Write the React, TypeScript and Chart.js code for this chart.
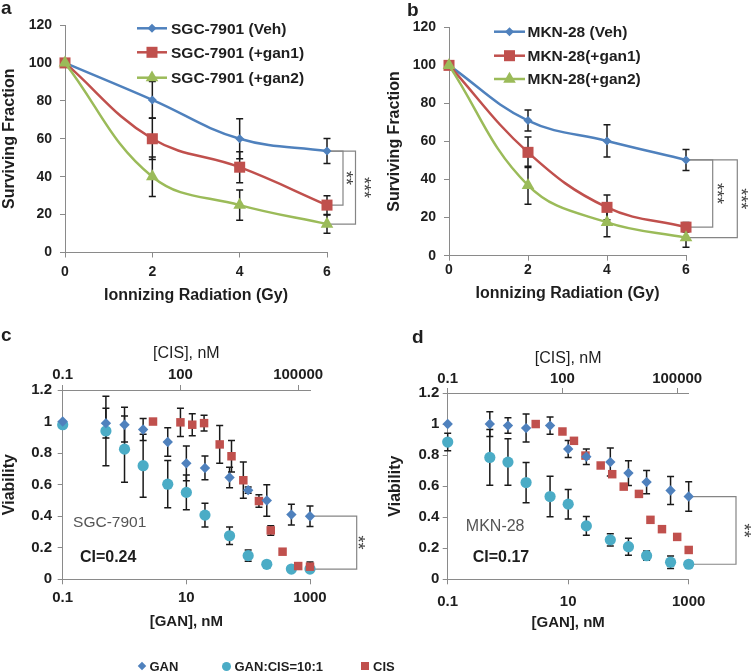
import React, { useEffect, useRef } from 'react';
import { Chart, registerables } from 'chart.js';
Chart.register(...registerables);

// ---------- Panel a / b : clonogenic survival ----------
const DOSES = [0, 2, 4, 6];
const SGC_LABELS = ['SGC-7901 (Veh)', 'SGC-7901 (+gan1)', 'SGC-7901 (+gan2)'];
const SGC_VEH = [100, 80.5, 60, 53.5];
const SGC_VEH_ERR = [0, 9.7, 10.5, 6.6];
const SGC_GAN1 = [100, 60, 45, 25];
const SGC_GAN1_ERR = [0, 11, 8.2, 5];
const SGC_GAN2 = [100, 40, 25, 15];
const SGC_GAN2_ERR = [0, 10.4, 8, 4.8];

const MKN_LABELS = ['MKN-28 (Veh)', 'MKN-28(+gan1)', 'MKN-28(+gan2)'];
const MKN_VEH = [100, 71, 60.3, 50.3];
const MKN_VEH_ERR = [0, 5.5, 8.5, 5.5];
const MKN_GAN1 = [100, 54.3, 25.4, 15];
const MKN_GAN1_ERR = [0, 8, 6.5, 2.5];
const MKN_GAN2 = [100, 37, 17.5, 9.5];
const MKN_GAN2_ERR = [0, 10, 7.5, 5];

// ---------- Panel c / d : viability ----------
const GAN_CONC = [0.1, 0.5, 1, 2, 5, 10, 20, 50, 100, 200, 500, 1000];
const CIS_CONC = [20, 100, 200, 400, 1000, 2000, 4000, 10000, 20000, 40000, 100000, 200000];
const GAN_TICKS = [0.1, 10, 1000];
const CIS_TICKS = [0.1, 100, 100000];
const CIS_AXIS_MAX = 200000;

const SGC_GAN_VIAB = [1.0, 0.99, 0.98, 0.95, 0.87, 0.735, 0.706, 0.645, 0.565, 0.5, 0.41, 0.4];
const SGC_GAN_VIAB_ERR = [0, 0.095, 0.11, 0.07, 0.09, 0.11, 0.075, 0.065, 0.02, 0.1, 0.065, 0.065];
const SGC_COMBO_VIAB = [0.98, 0.94, 0.825, 0.72, 0.603, 0.551, 0.407, 0.276, 0.15, 0.095, 0.065, 0.065];
const SGC_COMBO_VIAB_ERR = [0, 0.22, 0.21, 0.2, 0.15, 0.11, 0.075, 0.055, 0.035, 0.02, 0.01, 0.01];
const SGC_CIS_VIAB = [1.0, 0.995, 0.98, 0.99, 0.855, 0.78, 0.628, 0.496, 0.31, 0.175, 0.084, 0.08];
const SGC_CIS_VIAB_ERR = [0, 0.09, 0.07, 0.05, 0.12, 0.1, 0.115, 0.04, 0.03, 0, 0.02, 0.03];

const MKN_GAN_VIAB = [1.0, 1.0, 0.99, 0.974, 0.99, 0.839, 0.79, 0.755, 0.684, 0.626, 0.572, 0.533];
const MKN_GAN_VIAB_ERR = [0, 0.08, 0.05, 0.09, 0.055, 0.055, 0.05, 0.09, 0.08, 0.075, 0.09, 0.095];
const MKN_COMBO_VIAB = [0.884, 0.785, 0.755, 0.623, 0.533, 0.484, 0.344, 0.254, 0.21, 0.152, 0.11, 0.097];
const MKN_COMBO_VIAB_ERR = [0.056, 0.18, 0.15, 0.13, 0.13, 0.095, 0.06, 0.04, 0.055, 0.03, 0.04, 0.02];
const MKN_CIS_VIAB = [1.0, 0.952, 0.892, 0.797, 0.733, 0.677, 0.597, 0.55, 0.383, 0.323, 0.273, 0.189];

const LEGEND_C = ['GAN', 'GAN:CIS=10:1', 'CIS'];

// ---------- styling ----------
const FONT = "'Liberation Sans', Arial, Helvetica, sans-serif";
const AXIS = '#8a8a8a';
const TXT = '#1e1e1e';
const BLUE = '#4F81BD';
const RED = '#C0504D';
const GREEN = '#9BBB59';
const CYAN = '#4BACC6';

Chart.defaults.font.family = FONT;

function drawMarker(ctx: CanvasRenderingContext2D, style: string, x: number, y: number, r: number, fill: string) {
  ctx.beginPath();
  if (style === 'rectRot') {
    ctx.moveTo(x - r, y); ctx.lineTo(x, y - r); ctx.lineTo(x + r, y); ctx.lineTo(x, y + r); ctx.closePath();
  } else if (style === 'rect') {
    const s = r * Math.SQRT1_2; ctx.rect(x - s, y - s, 2 * s, 2 * s);
  } else if (style === 'triangle') {
    for (let k = 0; k < 3; k++) {
      const a = -Math.PI / 2 + k * (2 * Math.PI / 3);
      const px = x + Math.cos(a) * r, py = y + Math.sin(a) * r;
      if (k === 0) ctx.moveTo(px, py); else ctx.lineTo(px, py);
    }
    ctx.closePath();
  } else {
    ctx.arc(x, y, r, 0, Math.PI * 2);
  }
  ctx.fillStyle = fill; ctx.fill();
}

const errorBarPlugin = {
  id: 'errorBars',
  beforeDatasetsDraw(chart: any, _a: any, opts: any) {
    const ctx = chart.ctx;
    chart.data.datasets.forEach((ds: any, i: number) => {
      const errs = ds.errors; if (!errs) return;
      const meta = chart.getDatasetMeta(i);
      const ys = chart.scales[meta.yAxisID];
      ctx.save();
      ctx.strokeStyle = opts.color || '#1a1a1a';
      ctx.lineWidth = opts.width || 1.5;
      const cap = opts.cap || 3.5;
      meta.data.forEach((el: any, j: number) => {
        const e = errs[j]; if (!e) return;
        const v = ds.data[j].y;
        const y1 = ys.getPixelForValue(v + e), y2 = ys.getPixelForValue(v - e);
        ctx.beginPath();
        ctx.moveTo(el.x, y1); ctx.lineTo(el.x, y2);
        ctx.moveTo(el.x - cap, y1); ctx.lineTo(el.x + cap, y1);
        ctx.moveTo(el.x - cap, y2); ctx.lineTo(el.x + cap, y2);
        ctx.stroke();
      });
      ctx.restore();
    });
  },
};

const bracketPlugin = {
  id: 'brackets',
  beforeDatasetsDraw(chart: any, _a: any, opts: any) {
    const ctx = chart.ctx;
    (opts.items || []).forEach((b: any) => {
      const pA = chart.getDatasetMeta(b.from).data[b.index];
      const pB = chart.getDatasetMeta(b.to).data[b.index];
      const vx = pA.x + b.dx;
      ctx.save();
      ctx.strokeStyle = '#858585';
      ctx.lineWidth = 1.2;
      ctx.beginPath();
      ctx.moveTo(pA.x, pA.y); ctx.lineTo(vx, pA.y); ctx.lineTo(vx, pB.y); ctx.lineTo(pB.x, pB.y);
      ctx.stroke();
      ctx.translate(vx + b.labelDx, (pA.y + pB.y) / 2);
      ctx.rotate(Math.PI / 2);
      ctx.fillStyle = '#444';
      ctx.font = `normal 18px ${FONT}`;
      ctx.textAlign = 'center';
      ctx.textBaseline = 'middle';
      ctx.fillText(b.label, 0, 0);
      ctx.restore();
    });
  },
};

const lineLegendPlugin = {
  id: 'lineLegend',
  afterDraw(chart: any, _a: any, opts: any) {
    if (!opts || !opts.rows) return;
    const ctx = chart.ctx;
    chart.data.datasets.forEach((ds: any, i: number) => {
      const y = opts.rows[i];
      ctx.save();
      ctx.strokeStyle = ds.borderColor; ctx.lineWidth = ds.borderWidth;
      ctx.beginPath(); ctx.moveTo(opts.x1, y); ctx.lineTo(opts.x2, y); ctx.stroke();
      drawMarker(ctx, ds.pointStyle, (opts.x1 + opts.x2) / 2, y, ds.pointRadius, ds.backgroundColor);
      ctx.fillStyle = TXT;
      ctx.font = `bold 15.5px ${FONT}`;
      ctx.textAlign = 'left'; ctx.textBaseline = 'middle';
      ctx.fillText(ds.label, opts.textX, y + 1);
      ctx.restore();
    });
  },
};

const noteTextPlugin = {
  id: 'noteText',
  afterDraw(chart: any, _a: any, opts: any) {
    const ctx = chart.ctx;
    (opts.items || []).forEach((t: any) => {
      ctx.save();
      ctx.font = t.font;
      ctx.fillStyle = t.color;
      ctx.textAlign = 'left'; ctx.textBaseline = 'middle';
      ctx.fillText(t.text, chart.scales.x.getPixelForValue(t.x), chart.scales.y.getPixelForValue(t.y));
      ctx.restore();
    });
  },
};

const tickGrid = { display: true, drawOnChartArea: false, drawTicks: true, tickLength: 5, color: AXIS, lineWidth: 1 };
const axisBorder = { display: true, color: AXIS, width: 1 };

function survivalConfig(s: any) {
  const mk = (label: string, vals: number[], errs: number[], color: string, style: string, r: number, order: number) => ({
    label, data: DOSES.map((x, i) => ({ x, y: vals[i] })), errors: errs,
    borderColor: color, backgroundColor: color, pointBackgroundColor: color, pointBorderColor: color,
    pointStyle: style, pointRadius: r, pointBorderWidth: 0, borderWidth: 2.5, tension: 0.4, clip: false, order,
  });
  return {
    type: 'line',
    data: {
      datasets: [
        mk(s.labels[0], s.veh, s.vehErr, BLUE, 'rectRot', 4.5, 2),
        mk(s.labels[1], s.g1, s.g1Err, RED, 'rect', 7.8, 1),
        mk(s.labels[2], s.g2, s.g2Err, GREEN, 'triangle', 7.3, 0),
      ],
    },
    options: {
      responsive: false, animation: false, devicePixelRatio: 1,
      layout: { padding: { left: 0, top: s.top, right: s.right, bottom: 0 }, autoPadding: false },
      events: [],
      plugins: {
        legend: { display: false }, tooltip: { enabled: false },
        errorBars: { color: '#1a1a1a', width: 1.5, cap: 3.5 },
        brackets: { items: s.brackets },
        lineLegend: s.legend,
      },
      scales: {
        x: {
          type: 'linear', min: 0, max: 6,
          afterFit: (sc: any) => { sc.height = s.xH; },
          ticks: { stepSize: 2, padding: s.xTickPad, color: TXT, font: { size: 14, weight: 'bold' }, maxRotation: 0 },
          grid: tickGrid, border: axisBorder,
          title: { display: true, text: 'Ionnizing Radiation (Gy)', color: TXT, font: { size: 16, weight: 'bold' }, padding: { top: 0, bottom: s.xTitlePad } },
        },
        y: {
          type: 'linear', min: 0, max: 120,
          afterFit: (sc: any) => { sc.width = s.yW; },
          ticks: { stepSize: 20, padding: 8, color: TXT, font: { size: 14, weight: 'bold' } },
          grid: tickGrid, border: axisBorder,
          title: { display: true, text: 'Surviving Fraction', color: TXT, font: { size: 16, weight: 'bold' }, padding: { top: s.yTitlePad, bottom: 0 } },
        },
      },
    },
    plugins: [errorBarPlugin, bracketPlugin, lineLegendPlugin],
  };
}

function viabilityConfig(s: any) {
  const fmtLog = (v: any) => { const n = Number(v); return n < 1 ? String(n) : String(Math.round(n)); };
  return {
    type: 'scatter',
    data: {
      datasets: [
        { label: LEGEND_C[0], data: GAN_CONC.map((x, i) => ({ x, y: s.gan[i] })), errors: s.ganErr, xAxisID: 'x', yAxisID: 'y',
          pointStyle: 'rectRot', pointRadius: 5.2, pointBorderWidth: 0, backgroundColor: BLUE, borderColor: BLUE, order: 0, clip: false },
        { label: LEGEND_C[2], data: CIS_CONC.map((x, i) => ({ x, y: s.cis[i] })), errors: s.cisErr, xAxisID: 'x2', yAxisID: 'y',
          pointStyle: 'rect', pointRadius: 6, pointBorderWidth: 0, backgroundColor: RED, borderColor: RED, order: 1, clip: false },
        { label: LEGEND_C[1], data: GAN_CONC.map((x, i) => ({ x, y: s.combo[i] })), errors: s.comboErr, xAxisID: 'x', yAxisID: 'y',
          pointStyle: 'circle', pointRadius: 5.6, pointBorderWidth: 0, backgroundColor: CYAN, borderColor: CYAN, order: 2, clip: false },
      ],
    },
    options: {
      responsive: false, animation: false, devicePixelRatio: 1,
      layout: { padding: { left: 0, top: 0, right: s.right, bottom: 0 }, autoPadding: false },
      events: [],
      plugins: {
        legend: { display: false }, tooltip: { enabled: false },
        errorBars: { color: '#1a1a1a', width: 1.5, cap: 3.5 },
        brackets: { items: s.brackets },
        noteText: { items: s.notes },
      },
      scales: {
        x: {
          type: 'logarithmic', position: 'bottom', min: 0.1, max: 1000,
          afterFit: (sc: any) => { sc.height = s.xH; },
          afterBuildTicks: (sc: any) => { sc.ticks = GAN_TICKS.map((v) => ({ value: v })); },
          ticks: { autoSkip: false, maxRotation: 0, padding: s.xTickPad, color: TXT, font: { size: 15, weight: 'bold' }, callback: fmtLog },
          grid: tickGrid, border: axisBorder,
          title: { display: true, text: '[GAN], nM', color: TXT, font: { size: 15, weight: 'bold' }, padding: { top: 0, bottom: s.xTitlePad } },
        },
        x2: {
          type: 'logarithmic', axis: 'x', position: 'top', min: 0.1, max: CIS_AXIS_MAX,
          afterFit: (sc: any) => { sc.height = s.topH; },
          afterBuildTicks: (sc: any) => { sc.ticks = CIS_TICKS.map((v) => ({ value: v })); },
          ticks: { autoSkip: false, maxRotation: 0, padding: s.topTickPad, color: TXT, font: { size: 15, weight: 'bold' }, callback: fmtLog },
          grid: tickGrid, border: axisBorder,
          title: { display: true, text: '[CIS], nM', color: TXT, font: { size: 16, weight: 'normal' }, padding: { top: s.topTitlePad, bottom: 0 } },
        },
        y: {
          type: 'linear', min: 0, max: 1.2,
          afterFit: (sc: any) => { sc.width = s.yW; },
          ticks: { stepSize: 0.2, padding: s.yTickPad, color: TXT, font: { size: 15, weight: 'bold' },
            callback: (v: any) => String(Math.round(Number(v) * 10) / 10) },
          grid: tickGrid, border: axisBorder,
          title: { display: true, text: 'Viability', color: TXT, font: { size: 16, weight: 'bold' }, padding: { top: s.yTitlePad, bottom: 0 } },
        },
      },
    },
    plugins: [errorBarPlugin, bracketPlugin, noteTextPlugin],
  };
}

const CFG_A = survivalConfig({
  labels: SGC_LABELS, veh: SGC_VEH, vehErr: SGC_VEH_ERR, g1: SGC_GAN1, g1Err: SGC_GAN1_ERR, g2: SGC_GAN2, g2Err: SGC_GAN2_ERR,
  top: 25, right: 49, yW: 65, yTitlePad: 0, xH: 67.5, xTickPad: 6.5, xTitlePad: 15,
  legend: { x1: 137, x2: 167, textX: 171, rows: [28.3, 52.3, 77.7] },
  brackets: [
    { from: 0, to: 1, index: 3, dx: 16, labelDx: 2, label: '**' },
    { from: 0, to: 2, index: 3, dx: 28.5, labelDx: 7, label: '***' },
  ],
});

const CFG_B = survivalConfig({
  labels: MKN_LABELS, veh: MKN_VEH, vehErr: MKN_VEH_ERR, g1: MKN_GAN1, g1Err: MKN_GAN1_ERR, g2: MKN_GAN2, g2Err: MKN_GAN2_ERR,
  top: 27.3, right: 66, yW: 73, yTitlePad: 9.4, xH: 64.3, xTickPad: 1.5, xTitlePad: 17,
  legend: { x1: 118, x2: 149, textX: 151.5, rows: [31.7, 55.7, 79] },
  brackets: [
    { from: 0, to: 1, index: 3, dx: 26.7, labelDx: 3, label: '***' },
    { from: 0, to: 2, index: 3, dx: 51.3, labelDx: 3, label: '***' },
  ],
});

const CFG_C = viabilityConfig({
  gan: SGC_GAN_VIAB, ganErr: SGC_GAN_VIAB_ERR, combo: SGC_COMBO_VIAB, comboErr: SGC_COMBO_VIAB_ERR, cis: SGC_CIS_VIAB, cisErr: SGC_CIS_VIAB_ERR,
  right: 66, yW: 62.7, yTickPad: 5.7, yTitlePad: 0.4, xH: 80.7, xTickPad: 5, xTitlePad: 29, topH: 70, topTickPad: 1.3, topTitlePad: 24,
  brackets: [{ from: 0, to: 2, index: 11, dx: 46.7, labelDx: 0.5, label: '**' }],
  notes: [
    { text: 'SGC-7901', x: 0.147, y: 0.356, font: `normal 15.5px ${FONT}`, color: '#555' },
    { text: 'CI=0.24', x: 0.19, y: 0.137, font: `bold 16px ${FONT}`, color: TXT },
  ],
});

const CFG_D = viabilityConfig({
  gan: MKN_GAN_VIAB, ganErr: MKN_GAN_VIAB_ERR, combo: MKN_COMBO_VIAB, comboErr: MKN_COMBO_VIAB_ERR, cis: MKN_CIS_VIAB, cisErr: null,
  right: 63.3, yW: 71.7, yTickPad: 3.4, yTitlePad: 10.4, xH: 80.7, xTickPad: 8.7, xTitlePad: 27.7, topH: 73, topTickPad: 0, topTitlePad: 29.3,
  brackets: [{ from: 0, to: 2, index: 11, dx: 47.3, labelDx: 7, label: '**' }],
  notes: [
    { text: 'MKN-28', x: 0.2, y: 0.34, font: `normal 16px ${FONT}`, color: '#555' },
    { text: 'CI=0.17', x: 0.26, y: 0.139, font: `bold 16px ${FONT}`, color: TXT },
  ],
});

function ChartCanvas({ config, left, top, width, height }: any) {
  const ref = useRef<HTMLCanvasElement>(null);
  useEffect(() => {
    const chart = new Chart(ref.current as HTMLCanvasElement, config);
    return () => chart.destroy();
  }, [config]);
  return (
    <canvas ref={ref} width={width} height={height}
      style={{ position: 'absolute', left, top, width, height, display: 'block' }} />
  );
}

const letterStyle = (left: number, top: number): React.CSSProperties => ({
  position: 'absolute', left, top, font: `bold 19px ${FONT}`, lineHeight: '19px', color: TXT,
});

export default function App() {
  const legendItem = (left: number, marker: React.ReactNode, text: string) => (
    <div style={{ position: 'absolute', left, top: 0, height: 16, display: 'flex', alignItems: 'center', whiteSpace: 'nowrap' }}>
      <div style={{ width: 10, height: 16, position: 'relative', marginRight: 3 }}>{marker}</div>
      <span>{text}</span>
    </div>
  );
  return (
    <div style={{ position: 'absolute', left: 0, top: 0, width: 752, height: 672, background: '#fff', overflow: 'hidden' }}>
      <ChartCanvas config={CFG_A} left={0} top={0} width={376} height={320} />
      <ChartCanvas config={CFG_B} left={376} top={0} width={376} height={320} />
      <ChartCanvas config={CFG_C} left={0} top={320} width={376} height={340} />
      <ChartCanvas config={CFG_D} left={376} top={320} width={376} height={340} />
      <div style={letterStyle(1, -2)}>a</div>
      <div style={letterStyle(407, 0)}>b</div>
      <div style={letterStyle(1, 325)}>c</div>
      <div style={letterStyle(412, 327)}>d</div>
      <div style={{ position: 'absolute', left: 0, top: 658, width: 752, height: 16, font: `bold 13px ${FONT}`, color: TXT }}>
        {legendItem(136.5,
          <div style={{ position: 'absolute', left: 2, top: 5, width: 6, height: 6, background: BLUE, transform: 'rotate(45deg)' }} />,
          LEGEND_C[0])}
        {legendItem(221.5,
          <div style={{ position: 'absolute', left: 0.5, top: 3.5, width: 9, height: 9, borderRadius: '50%', background: CYAN }} />,
          LEGEND_C[1])}
        {legendItem(360,
          <div style={{ position: 'absolute', left: 1, top: 4, width: 8, height: 8, background: RED }} />,
          LEGEND_C[2])}
      </div>
    </div>
  );
}
